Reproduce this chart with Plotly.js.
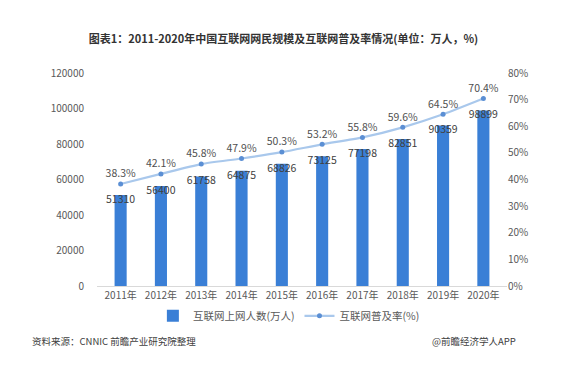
<!DOCTYPE html>
<html><head><meta charset="utf-8">
<script src="https://cdn.plot.ly/plotly-3.0.1.min.js"></script>
<style>html,body{margin:0;padding:0;background:#fff}#c{width:567px;height:366px}</style>
</head><body><div id="c"></div>
<script>
const years = ['2011年','2012年','2013年','2014年','2015年','2016年','2017年','2018年','2019年','2020年'];
const users = [51310,56400,61758,64875,68826,73125,77198,82851,90359,98899];
const rate = [0.383,0.421,0.458,0.479,0.503,0.532,0.558,0.596,0.645,0.704];
const barName = '互联网上网人数(万人)';
const lineName = '互联网普及率(%)';
const F = '"Noto Sans CJK SC", "Microsoft YaHei", sans-serif';

const traces = [
  {type:'bar', x:years, y:users, name:barName, marker:{color:'#3A7FD6'}, hoverinfo:'none'},
  {type:'scatter', mode:'text', x:years, y:users, text:users.map(String), textposition:'bottom center',
   textfont:{family:F,size:10.5,color:'#404040'}, showlegend:false, hoverinfo:'none'},
  {type:'scatter', mode:'lines+markers+text', x:years, y:rate, yaxis:'y2', name:lineName,
   line:{color:'#A9C8EC', width:2.2, shape:'spline', smoothing:0.6}, marker:{color:'#5B8FD4', size:5},
   text:rate.map(v=>(v*100).toFixed(1)+'%'), textposition:'top center',
   textfont:{family:F,size:10.5,color:'#505050'}, hoverinfo:'none'}
];
const layout = {
  width:567, height:366, margin:{l:97, r:60, t:73, b:80},
  paper_bgcolor:'#fff', plot_bgcolor:'#fff',
  font:{family:F, size:10, color:'#595959'},
  title:{text:'<b>图表1：2011-2020年中国互联网网民规模及互联网普及率情况(单位：万人，%)</b>',
    font:{family:F,size:11,color:'#333'}, x:0.5, xanchor:'center', yref:'container', y:1-39/366, yanchor:'middle'},
  bargap:0.7,
  xaxis:{type:'category', showline:true, linecolor:'#D9D9D9', linewidth:1, ticks:'', showgrid:false,
    tickfont:{family:F,size:10,color:'#595959'}},
  yaxis:{range:[0,120000], dtick:20000, tickformat:'d', showgrid:false, zeroline:false, showline:false, ticks:'',
    tickfont:{family:F,size:10,color:'#595959'}, ticklabelstandoff:12},
  yaxis2:{overlaying:'y', side:'right', range:[0,0.8], dtick:0.1, tickformat:'.0%', showgrid:false,
    zeroline:false, showline:false, ticks:'', tickfont:{family:F,size:10,color:'#595959'}},
  showlegend:true,
  legend:{orientation:'h', x:0.468, xanchor:'center', y:-0.14, yanchor:'middle',
    font:{family:F,size:10.5,color:'#595959'}, itemwidth:30},
  annotations:[
    {xref:'paper', yref:'paper', x:(30-97)/410, y:(286-341)/213, xanchor:'left', yanchor:'middle',
     showarrow:false, text:'资料来源：CNNIC 前瞻产业研究院整理', font:{family:F,size:9.5,color:'#404040'}},
    {xref:'paper', yref:'paper', x:(518-97)/410, y:(286-341)/213, xanchor:'right', yanchor:'middle',
     showarrow:false, text:'@前瞻经济学人APP', font:{family:F,size:9.5,color:'#404040'}}
  ]
};
Plotly.newPlot('c', traces, layout, {displayModeBar:false, staticPlot:true});
</script></body></html>
